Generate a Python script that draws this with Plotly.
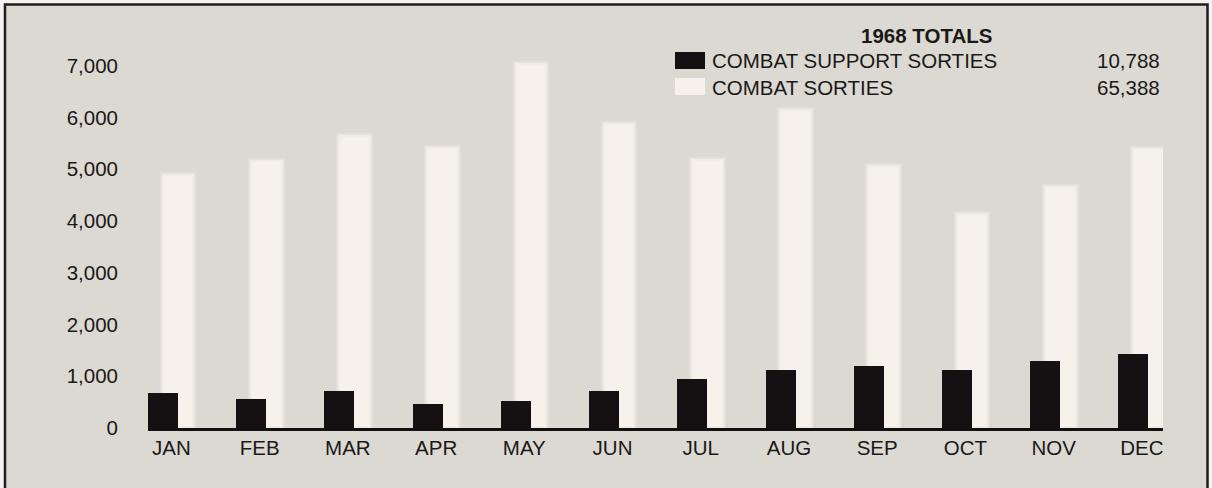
import plotly.graph_objects as go

# Monthly sorties, 1968
months = ["JAN", "FEB", "MAR", "APR", "MAY", "JUN",
          "JUL", "AUG", "SEP", "OCT", "NOV", "DEC"]
combat_support_sorties = [680, 570, 720, 460, 520, 720, 940, 1130, 1190, 1130, 1290, 1438]
combat_sorties = [4910, 5170, 5660, 5430, 7060, 5900, 5190, 6160, 5090, 4150, 4680, 5420]
y_ticks = [0, 1000, 2000, 3000, 4000, 5000, 6000, 7000]

legend_title = "1968 TOTALS"
support_name = "COMBAT SUPPORT SORTIES"
combat_name = "COMBAT SORTIES"
support_total = "10,788"
combat_total = "65,388"

W, H = 1212, 488
ML, MR, MT, MB = 148, 49, 14, 60
PW, PH = W - ML - MR, H - MT - MB

FONT = "Liberation Sans, Arial, Helvetica, sans-serif"
INK = "#1b1818"
BG = "#dcd9d3"
CREAM = "#f6f2eb"
BLACK = "#151112"


def px(x):
    """Pixel column -> paper x."""
    return (x - ML) / PW


def py(y):
    """Pixel row -> paper y."""
    return (H - MB - y) / PH


fig = go.Figure()

# Light bars sit behind, shifted right of the dark bars
fig.add_trace(go.Bar(
    x=months, y=combat_sorties, name=combat_name,
    offset=-0.11, width=0.37,
    marker=dict(color=CREAM, line=dict(color="rgba(236,232,225,0.5)", width=4)),
    hoverinfo="x+y",
))
fig.add_trace(go.Bar(
    x=months, y=combat_support_sorties, name=support_name,
    offset=-0.266, width=0.34,
    marker=dict(color=BLACK, line=dict(width=0)),
    hoverinfo="x+y",
))

shapes = [
    # outer frame
    dict(type="rect", xref="paper", yref="paper", layer="below",
         x0=px(5), x1=px(1207.5), y0=py(4.5), y1=py(500),
         fillcolor=BG, line=dict(color="#1e1c1c", width=2.5)),
    # legend swatches
    dict(type="rect", xref="paper", yref="paper",
         x0=px(675), x1=px(705), y0=py(52), y1=py(69),
         fillcolor=BLACK, line=dict(width=0)),
    dict(type="rect", xref="paper", yref="paper",
         x0=px(675), x1=px(705), y0=py(78), y1=py(95),
         fillcolor=CREAM, line=dict(width=0)),
]

txt = dict(family=FONT, size=20.5, color=INK)
annotations = [
    dict(text=f"<b>{legend_title}</b>", xref="paper", yref="paper",
         x=px(926), y=py(35), xanchor="center", yanchor="middle",
         showarrow=False, font=txt),
    dict(text=support_name, xref="paper", yref="paper",
         x=px(710), y=py(61), xanchor="left", yanchor="middle",
         showarrow=False, font=txt),
    dict(text=support_total, xref="paper", yref="paper",
         x=px(1162), y=py(61), xanchor="right", yanchor="middle",
         showarrow=False, font=txt),
    dict(text=combat_name, xref="paper", yref="paper",
         x=px(710), y=py(87), xanchor="left", yanchor="middle",
         showarrow=False, font=txt),
    dict(text=combat_total, xref="paper", yref="paper",
         x=px(1162), y=py(87), xanchor="right", yanchor="middle",
         showarrow=False, font=txt),
]

fig.update_layout(
    width=W, height=H,
    margin=dict(l=ML, r=MR, t=MT, b=MB, pad=0),
    barmode="overlay",
    bargap=0,
    showlegend=False,
    paper_bgcolor="#f3f2f0",
    plot_bgcolor="rgba(0,0,0,0)",
    font=txt,
    shapes=shapes,
    annotations=annotations,
    xaxis=dict(
        type="category",
        range=[-0.266, 11.24],
        showgrid=False, zeroline=False,
        showline=True, linecolor="#111", linewidth=2.5,
        ticks="", tickfont=txt,
        fixedrange=True,
    ),
    yaxis=dict(
        range=[0, 8000],
        tickvals=y_ticks, tickformat=",",
        showgrid=False, zeroline=False, showline=False,
        ticks="", ticklabelstandoff=29, tickfont=txt,
        fixedrange=True,
    ),
)

fig.write_html("out.html")
